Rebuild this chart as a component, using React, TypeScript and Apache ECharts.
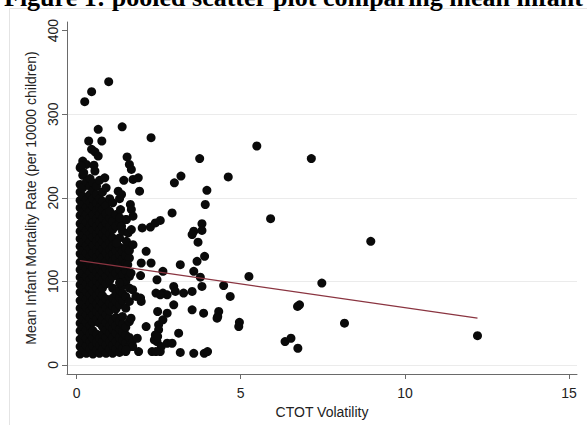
import React, { useEffect, useRef } from "react";
import * as echarts from "echarts";

const titleText = "Figure 1: pooled scatter plot comparing mean infant";
const xAxisTitle = "CTOT Volatility";
const yAxisTitle = "Mean Infant Mortality Rate (per 10000 children)";
const xTicks = [0, 5, 10, 15];
const yTicks = [0, 100, 200, 300, 400];
const gridLineValues = [0, 100, 200, 300];

// dense cluster, read column by column (CTOT volatility, then the mortality values in that column)
const denseColumnX = [0.11, 0.19, 0.3, 0.41, 0.5, 0.61, 0.7, 0.79, 0.9, 1.01, 1.1, 1.2, 1.31, 1.4, 1.5, 1.61];
const denseColumnY = [
  [13, 22, 31, 41, 50, 59, 68, 77, 87, 96, 105, 114, 123, 133, 142, 151, 160, 169, 179, 188, 197, 207, 216, 236],
  [18, 27, 36, 46, 55, 64, 73, 82, 92, 101, 110, 119, 128, 137, 147, 156, 165, 174, 183, 193, 202, 212, 227, 244],
  [14, 23, 32, 42, 51, 60, 69, 79, 88, 97, 106, 115, 124, 134, 143, 152, 161, 171, 180, 189, 198, 219, 240],
  [19, 28, 37, 47, 56, 65, 74, 84, 93, 102, 111, 120, 130, 139, 148, 157, 166, 176, 185, 194, 204, 214, 223],
  [13, 23, 32, 41, 51, 60, 69, 78, 88, 97, 106, 116, 125, 134, 143, 153, 162, 171, 180, 190, 199, 209, 218],
  [18, 27, 37, 55, 64, 73, 83, 92, 101, 111, 120, 129, 138, 148, 157, 166, 175, 185, 194, 204, 214],
  [14, 23, 32, 50, 60, 69, 78, 87, 97, 106, 115, 124, 134, 143, 152, 161, 171, 180, 189, 199, 221],
  [19, 28, 37, 46, 55, 65, 74, 83, 92, 102, 111, 120, 129, 139, 148, 157, 166, 176, 186, 196, 207],
  [14, 24, 33, 42, 51, 60, 69, 79, 97, 106, 115, 124, 134, 143, 152, 161, 170, 181, 191, 212],
  [19, 28, 38, 47, 56, 65, 74, 101, 111, 120, 129, 138, 147, 157, 166, 176, 184, 199],
  [14, 24, 33, 43, 52, 71, 80, 92, 106, 115, 124, 133, 142, 152, 162, 172, 194],
  [19, 28, 38, 47, 57, 67, 76, 85, 110, 119, 128, 137, 146, 166, 180],
  [15, 24, 33, 43, 52, 72, 81, 90, 104, 114, 123, 132, 141, 152, 171, 199],
  [20, 30, 40, 49, 58, 77, 86, 95, 108, 118, 127, 136, 160],
  [16, 26, 36, 45, 68, 82, 100, 113, 122, 131, 140, 174],
  [22, 33, 52, 76, 92, 106, 128, 137],
];

// points between the cluster and x = 5
const spreadPoints: [number, number][] = [
  [0.98, 339], [0.46, 327], [0.25, 315], [0.66, 282], [1.39, 285], [2.27, 272],
  [0.37, 268], [0.77, 268], [0.46, 258], [0.56, 255], [0.66, 250], [1.54, 249],
  [1.61, 240], [1.67, 234], [0.14, 238], [0.22, 230], [0.53, 239], [0.56, 232],
  [0.86, 224], [1.44, 221], [1.72, 222], [1.88, 224], [1.92, 208], [1.64, 192],
  [1.34, 186], [1.27, 208], [1.37, 204], [1.67, 186], [1.32, 176], [1.52, 174],
  [1.72, 178], [1.37, 166], [1.57, 158], [1.67, 162], [1.22, 146], [1.52, 148],
  [1.72, 144], [2.98, 218], [3.18, 226], [2.91, 182], [2.0, 164], [2.25, 165],
  [2.4, 170], [2.55, 173], [2.12, 136], [1.97, 122], [2.27, 122], [2.63, 112],
  [1.56, 120], [1.66, 110], [3.16, 120], [1.95, 107], [2.45, 102], [1.31, 98],
  [1.71, 90], [1.81, 82], [1.97, 76], [2.42, 86], [2.63, 86], [2.96, 94],
  [3.01, 88], [2.76, 84], [2.55, 84], [3.26, 86], [1.95, 80], [2.96, 72],
  [2.47, 64], [2.63, 54], [1.66, 56], [2.76, 62], [2.5, 48], [2.5, 42],
  [2.4, 36], [2.45, 28], [2.76, 26], [2.91, 26], [3.11, 38], [2.3, 16],
  [2.55, 16], [3.16, 15], [1.89, 16], [1.69, 26], [1.85, 32], [1.71, 22],
  [1.51, 18], [2.12, 46], [2.37, 30], [2.47, 34], [2.58, 22], [2.42, 16],
  [3.75, 247], [3.97, 209], [3.92, 192], [3.82, 169], [3.57, 160], [3.82, 161],
  [3.52, 156], [3.7, 147], [3.9, 130], [3.67, 124], [3.57, 112], [3.77, 105],
  [3.82, 94], [3.52, 88], [3.52, 66], [3.87, 62], [3.57, 14], [3.89, 14], [3.99, 16],
  [4.62, 225], [4.48, 95], [4.68, 82], [4.33, 64], [4.3, 58], [4.28, 56],
  [4.96, 51], [4.94, 46],
];

// points far to the right
const outlierPoints: [number, number][] = [
  [5.49, 262], [7.15, 247], [5.91, 175], [8.96, 148], [5.25, 106], [7.47, 98],
  [6.73, 70], [6.79, 72], [8.16, 50], [12.21, 35], [6.35, 28], [6.53, 32], [6.74, 20],
];

// fitted regression line end points
const fitLineX = [0.1, 12.21];
const fitLineY = [124.8, 56];

const sansFont = '"Liberation Sans", Arial, Helvetica, sans-serif';

export default function App() {
  const ref = useRef<HTMLDivElement>(null);

  useEffect(() => {
    document.body.style.margin = "0";
    if (!ref.current) return;
    const chart = echarts.init(ref.current, undefined, { renderer: "svg" });

    const densePoints: [number, number][] = [];
    denseColumnX.forEach((x, i) => {
      denseColumnY[i].forEach((y) => densePoints.push([x, y]));
    });
    const allPoints = [...densePoints, ...spreadPoints, ...outlierPoints];
    const fitData = fitLineX.map((x, i) => [x, fitLineY[i]]);

    const axisColor = "#6a6a6a";
    const labelStyle = { color: "#222", fontFamily: sansFont, fontSize: 14 };

    chart.setOption({
      animation: false,
      backgroundColor: "#ffffff",
      grid: { left: 67, right: 10, top: 22, bottom: 51, containLabel: false, outerBoundsMode: "none" },
      xAxis: {
        type: "value",
        min: -0.29,
        max: 15.24,
        name: xAxisTitle,
        nameLocation: "middle",
        nameGap: 29,
        nameTextStyle: { ...labelStyle },
        axisLine: { show: true, onZero: false, lineStyle: { color: axisColor, width: 1 } },
        axisTick: { show: true, length: 5, customValues: xTicks, lineStyle: { color: axisColor } },
        axisLabel: { customValues: xTicks, margin: 12, ...labelStyle },
        splitLine: { show: false },
      },
      yAxis: {
        type: "value",
        min: -10.8,
        max: 410.4,
        name: yAxisTitle,
        nameLocation: "middle",
        nameGap: 27,
        nameTextStyle: { ...labelStyle },
        axisLine: { show: true, onZero: false, lineStyle: { color: axisColor, width: 1 } },
        axisTick: { show: true, length: 5, customValues: yTicks, lineStyle: { color: axisColor } },
        axisLabel: { customValues: yTicks, margin: 7, rotate: 90, ...labelStyle },
        splitLine: { show: false },
      },
      graphic: [
        {
          type: "rect",
          silent: true,
          z: -10,
          shape: { x: 9.5, y: 8.5, width: 600, height: 440 },
          style: { fill: "none", stroke: "#e4e4e4", lineWidth: 1 },
        },
        {
          type: "text",
          silent: true,
          x: 4,
          y: -3,
          style: {
            text: titleText,
            font: 'bold 26px "Liberation Serif", "Times New Roman", serif',
            fill: "#000",
            verticalAlign: "middle",
            textVerticalAlign: "middle",
          },
        },
      ],
      series: [
        {
          type: "line",
          data: [],
          z: 0,
          silent: true,
          markLine: {
            z: 0,
            silent: true,
            symbol: "none",
            label: { show: false },
            lineStyle: { color: "#ebebeb", width: 1, type: "solid" },
            emphasis: { disabled: true },
            data: gridLineValues.map((v) => ({ yAxis: v })),
          },
        },
        {
          type: "scatter",
          data: allPoints,
          symbol: "circle",
          symbolSize: 9,
          z: 2,
          itemStyle: { color: "#0a0a0a", opacity: 1 },
          emphasis: { disabled: true },
          silent: true,
        },
        {
          type: "line",
          data: fitData,
          z: 3,
          symbol: "none",
          silent: true,
          lineStyle: { color: "#8a3440", width: 1.2 },
          emphasis: { disabled: true },
        },
      ],
    });

    return () => chart.dispose();
  }, []);

  return (
    <div
      ref={ref}
      style={{ position: "fixed", left: 0, top: 0, width: 587, height: 425, background: "#fff" }}
    />
  );
}
